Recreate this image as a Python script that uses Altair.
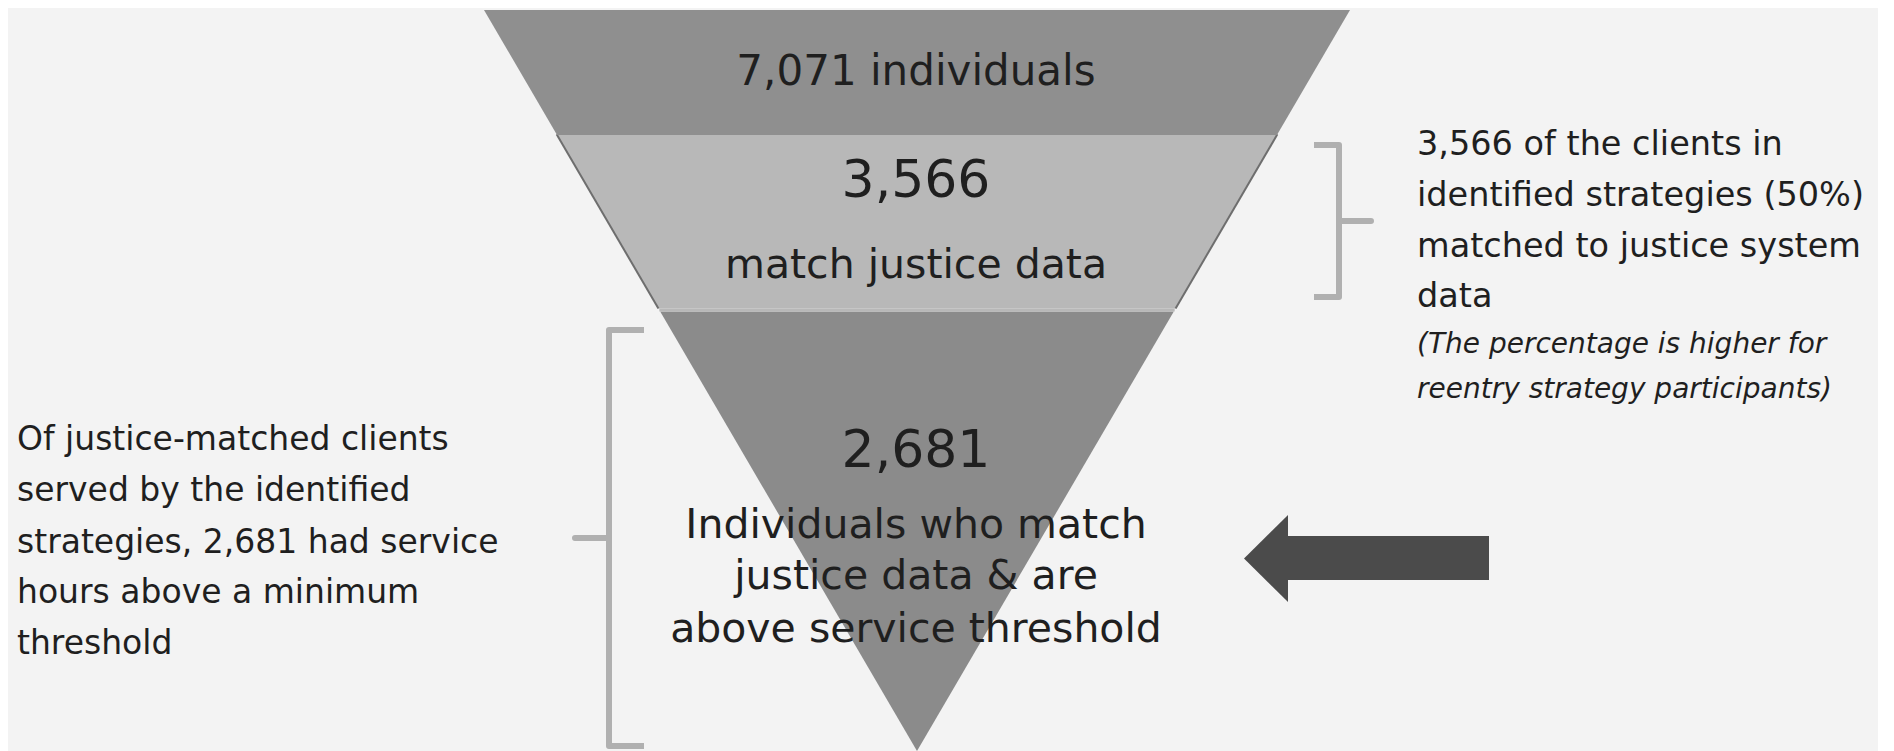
import altair as alt
import pandas as pd

# ---------------- data ----------------
stage_counts = [7071, 3566, 2681]
stage_captions = [
    ["individuals"],
    ["match justice data"],
    ["Individuals who match", "justice data & are", "above service threshold"],
]
right_note = ["3,566 of the clients in", "identified strategies (50%)",
              "matched to justice system", "data"]
right_note_italic = ["(The percentage is higher for", "reentry strategy participants)"]
left_note = ["Of justice-matched clients", "served by the identified",
             "strategies, 2,681 had service", "hours above a minimum", "threshold"]

# ---------------- styles ----------------
band_colors = ["#8f8f8f", "#b8b8b8", "#8b8b8b"]
BG = "#f3f3f3"
TEXT = "#1f1f1f"
BRACKET = "#b0b0b0"
ARROW = "#4b4b4b"
FONT = "DejaVu Sans"

# ---------------- layout (pixel positions of the 1894x751 picture) ----------------
W, H = 1870, 735
X0, Y0 = 8, 8
FUN_TOP, FUN_APEX = 10, 751
FUN_L, FUN_R = 484, 1350
CX = (FUN_L + FUN_R) / 2
band_spans = [(10, 133), (134.5, 308.5), (311.5, 751)]
sep_dark_y, sep_white_y = 133.5, 310


def half(y):
    return (FUN_R - FUN_L) / 2 * (FUN_APEX - y) / (FUN_APEX - FUN_TOP)


xs = alt.Scale(domain=[X0, X0 + W], nice=False, zero=False)
ys = alt.Scale(domain=[Y0, Y0 + H], nice=False, zero=False, reverse=True)

# funnel bands
rows = []
for i, (a, b) in enumerate(band_spans):
    for y in (a, b):
        rows.append({"band": f"b{i}", "y": y, "xl": CX - half(y), "xr": CX + half(y)})
bands_df = pd.DataFrame(rows)
bands = alt.Chart(bands_df).mark_area(orient="horizontal").encode(
    y=alt.Y("y:Q", scale=ys, axis=None),
    x=alt.X("xl:Q", scale=xs, axis=None, stack=None),
    x2="xr:Q",
    color=alt.Color("band:N", scale=alt.Scale(domain=["b0", "b1", "b2"], range=band_colors), legend=None),
    detail="band:N",
)

# band-2 darker side edges
a, b = band_spans[1]
edges_df = pd.DataFrame([
    {"x": CX - half(a), "x2": CX - half(b), "y": a, "y2": b},
    {"x": CX + half(a), "x2": CX + half(b), "y": a, "y2": b},
])
edges = alt.Chart(edges_df).mark_rule(color="#6e6e6e", strokeWidth=2).encode(
    x=alt.X("x:Q", scale=xs, axis=None), x2="x2:Q",
    y=alt.Y("y:Q", scale=ys, axis=None), y2="y2:Q",
)

# separators
sep_df = pd.DataFrame([
    {"y": sep_dark_y, "xl": CX - half(sep_dark_y), "xr": CX + half(sep_dark_y), "kind": "dark"},
    {"y": sep_white_y, "xl": CX - half(sep_white_y), "xr": CX + half(sep_white_y), "kind": "white"},
])
seps = alt.Chart(sep_df).mark_rule(strokeWidth=3).encode(
    x=alt.X("xl:Q", scale=xs, axis=None), x2="xr:Q",
    y=alt.Y("y:Q", scale=ys, axis=None),
    color=alt.Color("kind:N", scale=alt.Scale(domain=["dark", "white"], range=["#606060", "#ffffff"]), legend=None),
)

# brackets
def bracket(name, xv, xarm, xtick, ytop, ybot):
    ymid = (ytop + ybot) / 2
    pts = [(xarm, ytop), (xv, ytop), (xv, ymid), (xtick, ymid), (xv, ymid), (xv, ybot), (xarm, ybot)]
    return [{"name": name, "i": k, "x": p[0], "y": p[1]} for k, p in enumerate(pts)]

br_df = pd.DataFrame(bracket("r", 1339, 1314, 1371, 145, 297) + bracket("l", 609, 644, 575, 330, 746))
brackets = alt.Chart(br_df).mark_line(color=BRACKET, strokeWidth=6, strokeJoin="round", strokeCap="butt").encode(
    x=alt.X("x:Q", scale=xs, axis=None),
    y=alt.Y("y:Q", scale=ys, axis=None),
    detail="name:N",
    order="i:Q",
)

# arrow
head_df = pd.DataFrame([
    {"x": 1244, "y": 558.5, "y2": 558.5},
    {"x": 1288, "y": 515, "y2": 602},
])
head = alt.Chart(head_df).mark_area(orient="vertical", color=ARROW).encode(
    x=alt.X("x:Q", scale=xs, axis=None),
    y=alt.Y("y:Q", scale=ys, axis=None, stack=None),
    y2="y2:Q",
)
shaft_df = pd.DataFrame([{"x": 1287, "x2": 1489, "y": 536, "y2": 580}])
shaft = alt.Chart(shaft_df).mark_rect(color=ARROW).encode(
    x=alt.X("x:Q", scale=xs, axis=None), x2="x2:Q",
    y=alt.Y("y:Q", scale=ys, axis=None), y2="y2:Q",
)

# texts
def text_layer(df, size, italic=False, align="center"):
    return alt.Chart(df).mark_text(
        font=FONT, fontSize=size, fontStyle="italic" if italic else "normal",
        align=align, baseline="alphabetic", color=TEXT,
    ).encode(
        x=alt.X("x:Q", scale=xs, axis=None),
        y=alt.Y("y:Q", scale=ys, axis=None),
        text="t:N",
    )

TX = 916
top_df = pd.DataFrame([{"x": TX, "y": 85, "t": f"{stage_counts[0]:,} {stage_captions[0][0]}"}])
num_df = pd.DataFrame([
    {"x": TX, "y": 197, "t": f"{stage_counts[1]:,}"},
    {"x": TX, "y": 467, "t": f"{stage_counts[2]:,}"},
])
lab_ys = [278, 538, 589, 642]
lab_texts = stage_captions[1] + stage_captions[2]
lab_df = pd.DataFrame([{"x": TX, "y": y, "t": t} for y, t in zip(lab_ys, lab_texts)])

rn_df = pd.DataFrame([{"x": 1417, "y": y, "t": t} for y, t in zip([155, 206, 257, 307], right_note)])
rni_df = pd.DataFrame([{"x": 1417, "y": y, "t": t} for y, t in zip([353, 398], right_note_italic)])
ln_df = pd.DataFrame([{"x": 17, "y": y, "t": t} for y, t in zip([450, 501, 553, 603, 654], left_note)])

chart = alt.layer(
    bands, edges, seps, brackets, head, shaft,
    text_layer(top_df, 42),
    text_layer(num_df, 52),
    text_layer(lab_df, 41),
    text_layer(rn_df, 33.5, align="left"),
    text_layer(rni_df, 28, italic=True, align="left"),
    text_layer(ln_df, 33, align="left"),
).properties(
    width=W, height=H, padding=0,
).configure(
    background=BG,
).configure_view(
    strokeWidth=0,
)

chart.save("out.html", embed_options={"renderer": "svg", "actions": False})
